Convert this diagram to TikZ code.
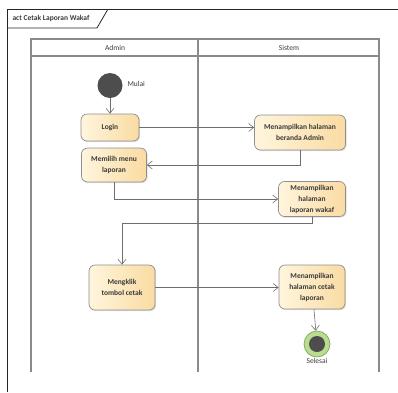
\documentclass[tikz,border=0pt]{standalone}
\usepackage{fontspec}
\setmainfont{Carlito}
\usetikzlibrary{arrows.meta,shadows}
\definecolor{laneline}{HTML}{8A8A8A}
\definecolor{actlight}{HTML}{FFF5DD}
\definecolor{actdark}{HTML}{FADBA2}
\definecolor{actborder}{HTML}{8E8E8E}
\definecolor{acttext}{HTML}{3A3A3A}
\definecolor{flowline}{HTML}{6E6E6E}
\definecolor{startfill}{HTML}{4D4D4D}
\definecolor{endring}{HTML}{B9DC8E}
\definecolor{endborder}{HTML}{7FA85A}
\begin{document}
\begin{tikzpicture}[x=1pt,y=-1pt,
    act/.style={draw=actborder, line width=0.7pt, rounded corners=6pt,
        left color=actlight, right color=actdark, align=center, inner sep=2pt,
        font=\fontsize{7.5}{11}\selectfont\bfseries, text=acttext,
        drop shadow={shadow xshift=1.2pt, shadow yshift=-1.2pt, opacity=0.25}},
    flow/.style={draw=flowline, line width=0.6pt, -{Straight Barb[length=5pt,width=8pt]}},
    lbl/.style={font=\fontsize{7.5}{9}\selectfont, text=acttext}]
    \useasboundingbox (0,0) rectangle (398,392);
    % frame
    \draw[black!85, line width=0.8pt] (7,392) -- (7,9) -- (398,9);
    \draw[black!85, line width=0.8pt] (7,28) -- (97,28) -- (108,9);
    \node[lbl, font=\fontsize{7.5}{9}\selectfont\bfseries, anchor=west] (titel) at (9,18.5) {act Cetak Laporan Wakaf};
    % swimlanes
    \draw[laneline, line width=1.2pt] (31,372) -- (31,39) -- (379,39) -- (379,372);
    \draw[laneline, line width=1.2pt] (31,56) -- (379,56);
    \draw[laneline, line width=1.2pt] (198,39) -- (198,372);
    \node[lbl] (admin) at (115,47.5) {Admin};
    \node[lbl] (sistem) at (289,47.5) {Sistem};
    % nodes
    \node[circle, fill=startfill, minimum size=25pt, inner sep=0pt] (mulai) at (110,85.5) {};
    \node[lbl, anchor=west] (mulailbl) at (124,84) {Mulai};
    \node[act, minimum width=58pt, minimum height=27pt] (login) at (110,127.5) {Login};
    \node[act, minimum width=65pt, minimum height=34pt] (memilih) at (114,165) {Memilih menu\\laporan};
    \node[act, minimum width=91pt, minimum height=35pt] (beranda) at (300,132.5) {Menampilkan halaman\\beranda Admin};
    \node[act, minimum width=67pt, minimum height=35pt] (wakaf) at (312,199) {Menampilkan\\halaman\\laporan wakaf};
    \node[act, minimum width=66pt, minimum height=45pt] (mengklik) at (122,287.5) {Mengklik\\tombol cetak};
    \node[act, minimum width=66pt, minimum height=44pt] (cetak) at (312,287) {Menampilkan\\halaman cetak\\laporan};
    \node[circle, draw=endborder, fill=endring, line width=0.7pt, minimum size=26pt, inner sep=0pt] (selesai) at (317,344) {};
    \fill[startfill] (selesai.center) circle (8pt);
    \node[lbl, anchor=north] (selesailbl) at (317,355) {Selesai};
    % flows
    \draw[flow] (mulai) -- (login);
    \draw[flow] (login.east) -- (login.east -| beranda.west);
    \draw[flow] (beranda.south) |- (memilih.east);
    \draw[flow] (memilih.south) |- (wakaf.west);
    \draw[flow] (wakaf.south) -- ++(0,6) -| (mengklik.north);
    \draw[flow] (mengklik.east) -- (mengklik.east -| cetak.west);
    \draw[flow] (cetak) -- (selesai);
\end{tikzpicture}
\end{document}
